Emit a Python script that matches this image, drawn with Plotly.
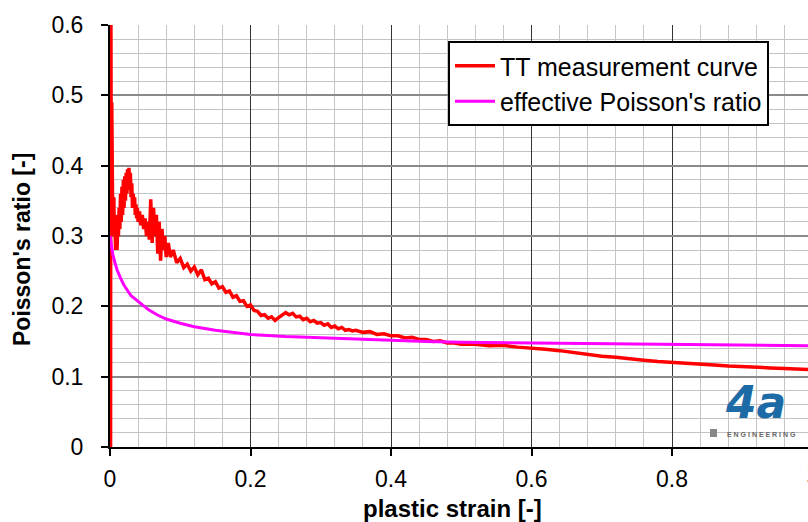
import plotly.graph_objects as go

# ---- data ----
red_x = [0.0008, 0.0012, 0.0018, 0.0025, 0.003, 0.0035, 0.004, 0.0045, 0.005, 0.0055,
         0.006, 0.0065, 0.007, 0.0075, 0.008, 0.0085, 0.009, 0.0095, 0.010, 0.011,
         0.012, 0.013, 0.014, 0.015, 0.016, 0.017, 0.018, 0.019, 0.020, 0.021,
         0.022, 0.023, 0.024, 0.025, 0.026, 0.027, 0.028, 0.029, 0.030, 0.031,
         0.032, 0.033, 0.034, 0.035, 0.036, 0.037, 0.038, 0.039, 0.040, 0.042,
         0.044, 0.046, 0.048, 0.050, 0.052, 0.054, 0.056, 0.058, 0.060, 0.062,
         0.064, 0.066, 0.068, 0.070, 0.072, 0.074, 0.076, 0.078, 0.080, 0.083,
         0.086, 0.090, 0.095, 0.100, 0.105, 0.110, 0.115, 0.120, 0.125, 0.130,
         0.135, 0.140, 0.145, 0.150, 0.155, 0.160, 0.165, 0.170, 0.175, 0.180,
         0.185, 0.190, 0.195, 0.200, 0.205, 0.210, 0.215, 0.220, 0.225, 0.230,
         0.235, 0.240, 0.245, 0.250, 0.255, 0.260, 0.265, 0.270, 0.275, 0.280,
         0.285, 0.290, 0.295, 0.300, 0.305, 0.310, 0.315, 0.320, 0.325, 0.330,
         0.335, 0.340, 0.345, 0.350, 0.360, 0.370, 0.380, 0.390, 0.400, 0.410,
         0.420, 0.430, 0.440, 0.450, 0.460, 0.470, 0.480, 0.490, 0.500, 0.520,
         0.540, 0.560, 0.580, 0.600, 0.620, 0.640, 0.660, 0.680, 0.700, 0.720,
         0.740, 0.760, 0.780, 0.800, 0.820, 0.840, 0.860, 0.880, 0.900, 0.920,
         0.940, 0.960, 0.980, 1.000]
red_y = [0.000, 0.700, 0.300, 0.490, 0.330, 0.360, 0.300, 0.340, 0.310, 0.355,
         0.300, 0.330, 0.285, 0.320, 0.280, 0.310, 0.290, 0.330, 0.280, 0.315,
         0.300, 0.340, 0.310, 0.360, 0.320, 0.370, 0.330, 0.380, 0.340, 0.385,
         0.350, 0.390, 0.360, 0.395, 0.365, 0.397, 0.370, 0.390, 0.355, 0.375,
         0.340, 0.360, 0.345, 0.355, 0.330, 0.345, 0.325, 0.340, 0.320, 0.335,
         0.315, 0.330, 0.310, 0.325, 0.300, 0.320, 0.295, 0.352, 0.290, 0.340,
         0.300, 0.330, 0.275, 0.320, 0.265, 0.310, 0.280, 0.300, 0.270, 0.290,
         0.270, 0.280, 0.262, 0.268, 0.255, 0.260, 0.250, 0.256, 0.245, 0.252,
         0.238, 0.240, 0.232, 0.235, 0.226, 0.228, 0.220, 0.222, 0.213, 0.215,
         0.207, 0.208, 0.200, 0.202, 0.194, 0.193, 0.187, 0.188, 0.183, 0.185,
         0.180, 0.184, 0.187, 0.191, 0.188, 0.190, 0.185, 0.186, 0.181, 0.183,
         0.178, 0.180, 0.176, 0.177, 0.173, 0.175, 0.170, 0.172, 0.168, 0.170,
         0.166, 0.167, 0.165, 0.166, 0.163, 0.164, 0.160, 0.161, 0.158, 0.158,
         0.155, 0.156, 0.153, 0.153, 0.150, 0.151, 0.148, 0.148, 0.146, 0.146,
         0.144, 0.1445, 0.142, 0.141, 0.139, 0.137, 0.134, 0.132, 0.129, 0.1275,
         0.125, 0.1235, 0.1215, 0.1205, 0.119, 0.1175, 0.1165, 0.115, 0.1145, 0.113,
         0.1125, 0.1115, 0.111, 0.110, 0.1095]

mag_x = [0.0, 0.002, 0.004, 0.007, 0.010, 0.015, 0.020, 0.030, 0.043, 0.055,
         0.067, 0.080, 0.100, 0.120, 0.150, 0.200, 0.250, 0.300, 0.350, 0.400,
         0.450, 0.500, 0.600, 0.700, 0.800, 0.900, 1.000]
mag_y = [0.300, 0.285, 0.274, 0.262, 0.252, 0.240, 0.230, 0.215, 0.204, 0.195,
         0.188, 0.182, 0.176, 0.171, 0.166, 0.160, 0.157, 0.155, 0.153, 0.151,
         0.150, 0.149, 0.148, 0.146, 0.145, 0.1445, 0.144]

series_names = ["TT measurement curve", "effective Poisson's ratio"]
x_title = "plastic strain [-]"
y_title = "Poisson's ratio [-]"

FONT = "Liberation Sans, Arial, sans-serif"

# plot area in pixels (for paper-coordinate conversion of decorations)
L, R, T, B = 110, 808, 25, 447
def px(xp):
    return (xp - L) / (R - L)
def py(yp):
    return (B - yp) / (B - T)

fig = go.Figure()
fig.add_trace(go.Scatter(x=red_x, y=red_y, mode="lines", name=series_names[0],
                         legendgroup="a", line=dict(color="#ff0000", width=3.5)))
fig.add_trace(go.Scatter(x=mag_x, y=mag_y, mode="lines", name=series_names[1],
                         legendgroup="b", line=dict(color="#ff00ff", width=3)))

x_max = (808 - 110) / 702.5

fig.update_layout(
    width=808, height=522,
    margin=dict(l=L, r=808 - R, t=T, b=522 - B),
    paper_bgcolor="white", plot_bgcolor="white",
    font=dict(family=FONT, color="black"),
    showlegend=True,
    legend=dict(x=px(448), y=py(41),
                xanchor="left", yanchor="top",
                bgcolor="white", bordercolor="black", borderwidth=2,
                font=dict(size=25, family=FONT, color="black"),
                itemwidth=40,
                traceorder="grouped", tracegroupgap=0),
    xaxis=dict(range=[0, x_max], tick0=0, dtick=0.2,
               showline=True, linecolor="black", linewidth=2,
               ticks="outside", ticklen=7, tickwidth=2, tickcolor="black",
               tickfont=dict(size=23, family=FONT), ticklabelstandoff=3,
               showgrid=True, gridcolor="#333333", gridwidth=1,
               zeroline=False, layer="below traces",
               minor=dict(dtick=0.04, tick0=0, showgrid=True,
                          gridcolor="#c4c4c4", gridwidth=1)),
    yaxis=dict(range=[0, 0.6], tick0=0, dtick=0.1,
               showline=True, linecolor="black", linewidth=2,
               ticks="outside", ticklen=7, tickwidth=2, tickcolor="black",
               tickfont=dict(size=23, family=FONT), ticklabelstandoff=13,
               showgrid=True, gridcolor="#8a8a8a", gridwidth=1.5,
               zeroline=False, layer="below traces",
               minor=dict(dtick=0.02, tick0=0, showgrid=True,
                          gridcolor="#c4c4c4", gridwidth=1)),
)

# axis titles
fig.add_annotation(xref="paper", yref="paper", x=px(452), y=py(508),
                   text="<b>" + x_title + "</b>", showarrow=False,
                   xanchor="center", yanchor="middle",
                   font=dict(size=24, family=FONT, color="black"))
fig.add_annotation(xref="paper", yref="paper", x=px(22), y=py(250),
                   text="<b>" + y_title + "</b>", showarrow=False, textangle=-90,
                   xanchor="center", yanchor="middle",
                   font=dict(size=23, family=FONT, color="black"))

# cut-off tick label "1" at the right edge
fig.add_annotation(xref="paper", yref="paper", x=1 / x_max, y=0, yshift=-12,
                   text="1", showarrow=False, xanchor="center", yanchor="top",
                   font=dict(size=23, family=FONT, color="black"))

# logo approximation
fig.add_annotation(xref="paper", yref="paper", x=px(755), y=py(429),
                   text="<b><i>4a</i></b>", showarrow=False,
                   xanchor="center", yanchor="bottom", borderpad=0,
                   font=dict(size=44, family="DejaVu Sans", color="#1c6aa6"))
fig.add_annotation(xref="paper", yref="paper", x=px(761), y=py(430),
                   text="<b>E N G I N E E R I N G</b>", showarrow=False,
                   xanchor="center", yanchor="top", borderpad=0,
                   font=dict(size=7, family=FONT, color="#666666"))
fig.add_shape(type="rect", xref="paper", yref="paper",
              x0=px(710), x1=px(717), y0=py(437), y1=py(429),
              fillcolor="#888888", line=dict(width=0))

fig.write_html("out.html", config={"displayModeBar": False},
               post_script="document.body.style.margin='0';")
